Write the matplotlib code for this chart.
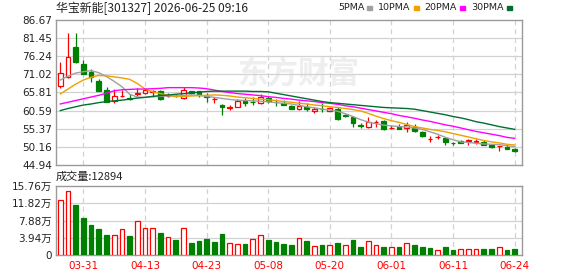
import numpy as np
import matplotlib as mpl
import matplotlib.pyplot as plt
from matplotlib.patches import Rectangle

mpl.rcParams['font.family'] = ['DejaVu Sans', 'Noto Sans CJK SC']
mpl.rcParams['font.size'] = 7.5

# trading days shown
dates = ['03-26', '03-27', '03-30', '03-31', '04-01', '04-02', '04-03', '04-07',
         '04-08', '04-09', '04-10', '04-13', '04-14', '04-15', '04-16', '04-17',
         '04-20', '04-21', '04-22', '04-23', '04-24', '04-27', '04-28', '04-29',
         '04-30', '05-06', '05-07', '05-08', '05-11', '05-12', '05-13', '05-14',
         '05-15', '05-18', '05-19', '05-20', '05-21', '05-22', '05-25', '05-26',
         '05-27', '05-28', '05-29', '06-01', '06-02', '06-03', '06-04', '06-05',
         '06-08', '06-09', '06-10', '06-11', '06-12', '06-15', '06-16', '06-17',
         '06-18', '06-22', '06-23', '06-24']

opens = [67.7, 70.2, 78.9, 74.1, 71.7, 69.1, 66.6, 63.5, 64.8, 64.2,
         65.5, 65.6, 66.0, 66.1, 64.8, 64.8, 64.2, 66.1, 66.1, 64.8,
         63.8, 62.2, 61.4, 61.6, 63.3, 63.15, 62.9, 64.1, 63.2, 62.9,
         61.9, 61.2, 61.7, 60.6, 61.1, 60.6, 61.0, 59.4, 58.7, 56.3,
         55.8, 57.3, 57.5, 55.5, 56.0, 55.5, 55.8, 54.5, 52.3, 53.0,
         52.7, 51.25, 51.8, 51.95, 51.7, 51.6, 50.8, 50.35, 50.2, 49.6]
highs = [74.6, 82.8, 83.0, 75.2, 72.7, 69.6, 67.4, 66.8, 66.4, 65.4,
         67.0, 67.0, 66.6, 66.4, 65.6, 65.3, 67.5, 66.3, 66.3, 65.6,
         64.5, 62.4, 62.1, 63.9, 64.1, 64.6, 65.3, 64.8, 63.9, 63.7,
         62.2, 63.5, 62.7, 61.7, 62.7, 61.7, 61.7, 59.6, 58.8, 57.0,
         58.7, 57.9, 57.9, 56.5, 56.8, 57.3, 56.8, 54.6, 53.3, 53.6,
         52.8, 51.7, 52.0, 52.5, 52.5, 52.0, 50.9, 50.5, 50.6, 49.8]
lows = [67.0, 69.9, 74.4, 71.0, 68.7, 66.1, 63.2, 62.7, 64.6, 63.7,
        64.8, 65.3, 64.5, 63.7, 64.5, 64.5, 63.9, 65.4, 64.5, 63.2,
        62.7, 59.4, 60.8, 61.5, 61.9, 62.3, 62.4, 62.9, 61.9, 62.1,
        61.1, 60.8, 60.6, 60.0, 60.3, 60.5, 57.9, 58.7, 56.0, 55.5,
        55.7, 56.0, 55.0, 55.3, 55.3, 54.3, 54.3, 53.1, 51.6, 52.3,
        50.8, 50.6, 51.2, 50.8, 51.0, 50.7, 49.8, 49.1, 49.5, 48.6]
closes = [71.4, 76.0, 74.6, 71.2, 70.4, 66.3, 63.2, 64.8, 64.9, 63.9,
          65.6, 66.4, 66.1, 63.9, 64.9, 64.9, 66.4, 65.6, 65.2, 64.5,
          63.9, 61.7, 61.5, 63.5, 62.7, 63.05, 64.6, 63.3, 63.0, 62.2,
          61.2, 61.9, 61.2, 61.2, 61.0, 61.3, 58.3, 58.9, 57.0, 56.2,
          57.2, 57.4, 55.2, 55.6, 55.4, 56.5, 54.8, 53.3, 52.4, 53.1,
          51.6, 51.15, 51.4, 52.05, 51.8, 50.8, 50.2, 50.45, 49.6, 49.1]

# volume in units of 10k (万)
volumes = [12.56, 14.62, 11.42, 8.53, 6.85, 5.94, 4.57, 4.49, 5.86, 4.34,
           7.69, 6.17, 6.17, 5.02, 4.11, 3.43, 6.17, 2.74, 3.20, 3.65,
           2.97, 4.80, 2.74, 2.51, 2.51, 3.65, 4.49, 3.43, 2.97, 2.51,
           2.28, 3.81, 3.20, 2.06, 2.28, 2.28, 2.74, 2.28, 3.43, 1.83,
           3.12, 2.28, 1.83, 1.83, 1.83, 2.66, 2.28, 1.83, 1.60, 1.07,
           1.83, 1.14, 1.37, 1.37, 1.37, 1.37, 1.37, 1.83, 1.14, 1.29]
vol_up = [1, 1, 0, 0, 0, 0, 0, 1, 1, 0, 1, 1, 1, 0, 1, 0, 1, 0, 0, 0,
          0, 0, 1, 1, 0, 1, 1, 0, 0, 0, 0, 1, 0, 1, 0, 1, 0, 1, 0, 0,
          1, 1, 0, 1, 0, 1, 0, 0, 0, 1, 0, 0, 1, 1, 1, 0, 0, 1, 0, 0]

ma5 = [69.4, 70.5, 71.4, 71.8, 72.1, 71.5, 70.4, 69.0, 67.5, 65.3,
       64.5, 64.4, 64.6, 64.7, 64.8, 64.8, 65.0, 65.1, 65.0, 64.7,
       64.4, 64.1, 63.8, 63.6, 63.5, 63.4, 63.3, 63.1, 62.9, 62.7,
       62.5, 62.1, 61.7, 61.4, 61.0, 60.8, 60.4, 59.7, 58.9, 58.0,
       57.3, 56.8, 56.4, 56.2, 56.0, 55.9, 55.6, 55.2, 54.5, 53.8,
       52.9, 52.2, 51.6, 51.4, 51.2, 51.0, 50.9, 50.8, 50.5, 50.2]
ma10 = [65.4, 66.8, 68.2, 69.4, 70.2, 70.7, 70.6, 70.3, 70.0, 69.6,
        68.4, 66.8, 66.0, 65.5, 65.0, 64.7, 64.7, 64.8, 64.9, 65.0,
        65.1, 65.0, 64.8, 64.5, 64.3, 64.1, 63.9, 63.7, 63.5, 63.2,
        63.0, 62.7, 62.5, 62.2, 62.0, 61.7, 61.5, 61.2, 60.9, 60.5,
        59.8, 59.0, 58.3, 57.7, 57.2, 56.6, 56.0, 55.6, 55.2, 54.9,
        54.5, 54.0, 53.5, 53.0, 52.5, 52.0, 51.6, 51.3, 50.9, 50.7]
ma20 = [62.5, 63.0, 63.5, 64.0, 64.5, 65.0, 65.6, 66.3, 66.6, 66.7,
        66.8, 66.8, 66.9, 67.0, 67.2, 67.2, 67.2, 67.2, 67.1, 66.9,
        66.5, 66.1, 65.8, 65.5, 65.3, 65.1, 64.9, 64.6, 64.4, 64.1,
        63.9, 63.6, 63.4, 63.2, 62.9, 62.7, 62.4, 62.0, 61.7, 61.3,
        60.9, 60.5, 60.1, 59.7, 59.2, 58.8, 58.4, 57.9, 57.5, 57.0,
        56.5, 56.1, 55.6, 55.1, 54.6, 54.2, 53.8, 53.4, 52.9, 52.6]
ma30 = [60.6, 61.2, 61.7, 62.2, 62.5, 62.9, 63.2, 63.4, 63.6, 63.9,
        64.2, 64.4, 64.7, 64.9, 65.1, 65.3, 65.5, 65.7, 65.9, 66.1,
        66.2, 66.2, 66.2, 66.2, 66.2, 66.1, 66.1, 66.0, 65.6, 65.2,
        64.8, 64.4, 64.0, 63.6, 63.2, 62.9, 62.7, 62.5, 62.3, 62.1,
        61.9, 61.7, 61.5, 61.4, 61.3, 61.2, 61.0, 60.6, 60.2, 59.8,
        59.4, 58.9, 58.5, 58.0, 57.4, 57.0, 56.5, 56.0, 55.6, 55.2]

price_ticks = [44.94, 50.16, 55.37, 60.59, 65.81, 71.02, 76.24, 81.45, 86.67]
vol_ticks = [0, 3.94, 7.88, 11.82, 15.76]
vol_labels = ['0', '3.94万', '7.88万', '11.82万', '15.76万']
date_ticks = [3, 11, 19, 27, 35, 43, 51, 59]

ma_names = ['5PMA', '10PMA', '20PMA', '30PMA']
ma_colors = ['#a0a0a0', '#f0a000', '#ff00ff', '#006f30']
RED = '#ff0000'
GREEN = '#008000'
FRAME = '#9a9a9a'
GRID = '#d2d2d2'

fig = plt.figure(figsize=(5.78, 2.76), dpi=100)
W, H = 578, 276
ax = fig.add_axes([56 / W, 1 - 165 / H, 466 / W, 145 / H])
axv = fig.add_axes([56 / W, 1 - 255 / H, 466 / W, 69 / H])

x = np.arange(len(dates))
o = np.array(opens); c = np.array(closes)
hi = np.array(highs); lo = np.array(lows)
up = c >= o
bw = 0.62

# watermark
ax.text(0.52, 0.63, '东方财富', transform=ax.transAxes, ha='center', va='center',
        fontsize=22, fontweight='bold', color='#eeeeee', zorder=0,
        family=['Noto Sans CJK SC', 'DejaVu Sans'])

# candles
ax.vlines(x[up], lo[up], hi[up], color=RED, lw=0.9, zorder=3)
ax.vlines(x[~up], lo[~up], hi[~up], color=GREEN, lw=0.9, zorder=3)
body = np.maximum(np.abs(c - o), 0.12)
ax.bar(x[up], body[up], bottom=np.minimum(o, c)[up], width=bw,
       facecolor='white', edgecolor=RED, linewidth=0.9, zorder=4)
ax.bar(x[~up], body[~up], bottom=np.minimum(o, c)[~up], width=bw,
       facecolor=GREEN, edgecolor=GREEN, linewidth=0.9, zorder=4)

for vals, col in zip([ma5, ma10, ma20, ma30], ma_colors):
    ax.plot(x, vals, color=col, lw=1.0, zorder=5)

# volume bars
vu = np.array(vol_up, dtype=bool)
vol = np.array(volumes)
axv.bar(x[vu], vol[vu], width=bw, facecolor='white', edgecolor=RED,
        linewidth=0.9, zorder=3)
axv.bar(x[~vu], vol[~vu], width=bw, facecolor=GREEN, edgecolor=GREEN,
        linewidth=0.9, zorder=3)

for a in (ax, axv):
    a.set_xlim(-0.56, 59.96)
    for s in a.spines.values():
        s.set_color(FRAME)
        s.set_linewidth(1.0)
    a.tick_params(length=0, pad=3, labelcolor='#222222', labelsize=7.5)
    for t in date_ticks:
        a.axvline(t, color=GRID, lw=0.9, ls=(0, (4, 3)), zorder=1)
    a.set_xticks(date_ticks)

ax.set_ylim(price_ticks[0], price_ticks[-1])
ax.set_yticks(price_ticks)
ax.set_yticklabels(['%.2f' % v for v in price_ticks])
for v in price_ticks[1:-1]:
    ax.axhline(v, color=GRID, lw=0.9, zorder=1)
ax.set_xticklabels([])

axv.set_ylim(0, 15.76)
axv.set_yticks(vol_ticks)
axv.set_yticklabels(vol_labels)
for v in vol_ticks[1:-1]:
    axv.axhline(v, color=GRID, lw=0.9, zorder=1)
axv.set_xticklabels([dates[t] for t in date_ticks], color=RED)
axv.tick_params(axis='x', pad=4)

# title and legend
fig.text(56 / W, 1 - 8 / H, '华宝新能[301327] 2026-06-25 09:16', ha='left',
         va='center', fontsize=8.6, color='#222222',
         family=['Noto Sans CJK SC', 'DejaVu Sans'])
fig.text(56 / W, 1 - 177 / H, '成交量:12894', ha='left', va='center',
         fontsize=8, color='#222222',
         family=['Noto Sans CJK SC', 'DejaVu Sans'])

fig.canvas.draw()
renderer = fig.canvas.get_renderer()
lx = 338
for name, col in zip(ma_names, ma_colors):
    t = fig.text(lx / W, 1 - 8 / H, name, ha='left', va='center',
                 fontsize=6.8, color='#222222')
    ext = t.get_window_extent(renderer)
    mx = ext.x1 + 3
    fig.patches.append(Rectangle((mx / W, 1 - 10 / H), 5 / W, 3.5 / H,
                                 transform=fig.transFigure, color=col))
    lx = mx + 11

fig.savefig('out.png', dpi=100)
